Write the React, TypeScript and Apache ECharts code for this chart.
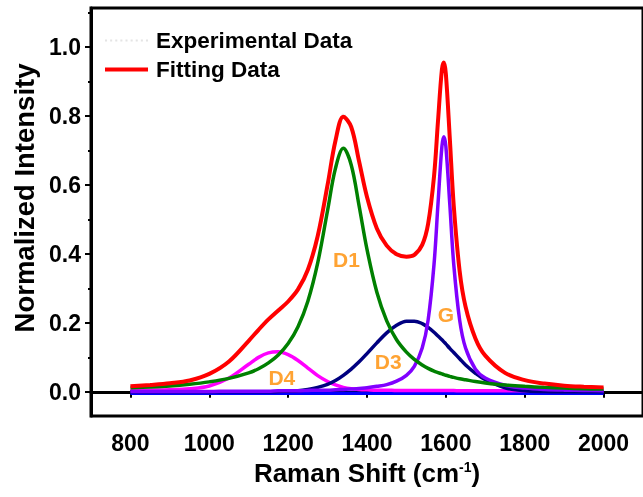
import React, { useEffect, useRef } from 'react';
import * as echarts from 'echarts';

const ramanShift = [800, 850, 900, 950, 1000, 1050, 1100, 1125, 1150, 1175, 1200, 1225, 1250, 1275, 1300, 1320, 1340, 1360, 1380, 1400, 1425, 1450, 1475, 1500, 1520, 1540, 1555, 1570, 1580, 1590, 1595, 1600, 1610, 1620, 1635, 1650, 1675, 1700, 1750, 1800, 1850, 1900, 1950, 2000];

const experimental = [0.018, 0.021, 0.024, 0.034, 0.052, 0.092, 0.150, 0.185, 0.210, 0.240, 0.266, 0.302, 0.350, 0.458, 0.604, 0.735, 0.805, 0.772, 0.662, 0.570, 0.470, 0.428, 0.396, 0.395, 0.394, 0.430, 0.483, 0.630, 0.790, 0.930, 0.958, 0.925, 0.730, 0.545, 0.355, 0.250, 0.158, 0.108, 0.058, 0.036, 0.025, 0.020, 0.016, 0.014];

const fitting = [0.016, 0.020, 0.025, 0.033, 0.052, 0.088, 0.148, 0.180, 0.210, 0.236, 0.262, 0.297, 0.354, 0.452, 0.600, 0.728, 0.798, 0.768, 0.668, 0.565, 0.474, 0.424, 0.399, 0.392, 0.397, 0.426, 0.487, 0.625, 0.784, 0.935, 0.955, 0.922, 0.735, 0.540, 0.350, 0.247, 0.155, 0.105, 0.055, 0.034, 0.024, 0.018, 0.015, 0.013];

const peakD1 = [0.012, 0.014, 0.017, 0.022, 0.029, 0.039, 0.055, 0.067, 0.084, 0.107, 0.140, 0.189, 0.263, 0.374, 0.526, 0.648, 0.706, 0.658, 0.539, 0.413, 0.289, 0.206, 0.151, 0.115, 0.094, 0.078, 0.068, 0.060, 0.056, 0.052, 0.050, 0.048, 0.045, 0.042, 0.038, 0.035, 0.030, 0.026, 0.020, 0.016, 0.013, 0.011, 0.009, 0.008];

const peakG = [0.001, 0.001, 0.001, 0.001, 0.001, 0.002, 0.002, 0.002, 0.002, 0.003, 0.003, 0.003, 0.004, 0.005, 0.005, 0.006, 0.007, 0.008, 0.010, 0.012, 0.016, 0.021, 0.031, 0.048, 0.074, 0.127, 0.208, 0.370, 0.544, 0.712, 0.740, 0.712, 0.544, 0.370, 0.208, 0.127, 0.066, 0.040, 0.019, 0.011, 0.007, 0.005, 0.004, 0.003];

const peakD3 = [0, 0, 0, 0, 0, 0, 0, 0, 0, 0.001, 0.002, 0.003, 0.007, 0.013, 0.022, 0.033, 0.048, 0.066, 0.087, 0.111, 0.142, 0.171, 0.193, 0.205, 0.205, 0.198, 0.187, 0.173, 0.162, 0.151, 0.145, 0.139, 0.126, 0.114, 0.096, 0.078, 0.054, 0.035, 0.012, 0.003, 0.001, 0, 0, 0];

const peakD4 = [0.004, 0.005, 0.006, 0.009, 0.017, 0.040, 0.080, 0.100, 0.113, 0.116, 0.108, 0.091, 0.069, 0.047, 0.030, 0.020, 0.013, 0.009, 0.007, 0.006, 0.005, 0.005, 0.004, 0.004, 0.004, 0.004, 0.004, 0.004, 0.004, 0.004, 0.004, 0.004, 0.004, 0.004, 0.003, 0.003, 0.003, 0.003, 0.003, 0.003, 0.003, 0.002, 0.002, 0.002];

const baselineX = [800, 2000];
const baselineY = [-0.004, -0.004];

const peakNames = ['D1', 'D4', 'D3', 'G'];
const peakLabelX = [1348, 1184, 1454, 1600];
const peakLabelY = [0.383, 0.041, 0.087, 0.223];

const xMajor = [800, 1000, 1200, 1400, 1600, 1800, 2000];
const xMinor = [700, 900, 1100, 1300, 1500, 1700, 1900, 2100];
const yMajor = [0, 0.2, 0.4, 0.6, 0.8, 1.0];
const yMinor = [0.1, 0.3, 0.5, 0.7, 0.9, 1.1];

const dottedIcon = 'path://M0,0h2v2h-2zM5,0h2v2h-2zM10,0h2v2h-2zM15,0h2v2h-2zM20,0h2v2h-2zM25,0h2v2h-2zM30,0h2v2h-2zM35,0h2v2h-2zM40,0h2v2h-2z';

export default function App() {
  const ref = useRef<HTMLDivElement>(null);
  useEffect(() => {
    const chart = echarts.init(ref.current as HTMLDivElement, null, { renderer: 'svg' });
    const font = "'Liberation Sans', Arial, Helvetica, sans-serif";
    const pairs = (xs: number[], ys: number[]) => xs.map((x, i) => [x, ys[i]]);
    const curve = (name: string, xs: number[], ys: number[], color: string, width: number, z: number, type = 'solid') => ({
      type: 'line',
      name,
      data: pairs(xs, ys),
      symbol: 'none',
      smooth: 0.35,
      silent: true,
      z,
      lineStyle: { color, width, type },
      itemStyle: { color },
    });
    const xBase = { type: 'value', min: 700, max: 2100, splitLine: { show: false } };
    const yBase = { type: 'value', min: -0.07, max: 1.113, splitLine: { show: false } };
    chart.setOption({
      animation: false,
      grid: { left: 91, right: -3, top: 8, bottom: 81, show: true, borderColor: '#000', borderWidth: 3 },
      legend: {
        data: [
          { name: 'Experimental Data', icon: dottedIcon, itemStyle: { color: '#e4e4e4' } },
          { name: 'Fitting Data', icon: 'rect', itemStyle: { color: '#ff0000' } },
        ],
        orient: 'vertical',
        left: 100,
        top: 24,
        itemWidth: 43,
        itemHeight: 4,
        itemGap: 6,
        textStyle: { fontFamily: font, fontWeight: 'bold', fontSize: 22.5, color: '#000', padding: [0, 0, 0, 3] },
      },
      xAxis: [
        {
          ...xBase,
          position: 'bottom',
          name: 'Raman Shift (cm{sup|-1})',
          nameLocation: 'middle',
          nameGap: 44,
          nameTextStyle: {
            fontFamily: font, fontWeight: 'bold', fontSize: 26, color: '#000',
            rich: { sup: { fontFamily: font, fontWeight: 'bold', fontSize: 14, color: '#000', verticalAlign: 'top', padding: [0, 0, 10, 0] } },
          },
          axisLine: { show: true, lineStyle: { color: '#000', width: 3 } },
          axisTick: { show: true, customValues: xMajor, length: 6, lineStyle: { color: '#000', width: 2 } },
          axisLabel: { customValues: xMajor, margin: 15, fontFamily: font, fontWeight: 'bold', fontSize: 23, color: '#000', formatter: (v: number) => String(v) },
        },
        {
          ...xBase,
          position: 'bottom',
          axisLine: { show: false },
          axisTick: { show: true, customValues: xMinor, length: 3, lineStyle: { color: '#000', width: 2 } },
          axisLabel: { show: false },
        },
      ],
      yAxis: [
        {
          ...yBase,
          position: 'left',
          name: 'Normalized Intensity',
          nameLocation: 'middle',
          nameGap: 50,
          nameTextStyle: { fontFamily: font, fontWeight: 'bold', fontSize: 27.5, color: '#000', padding: [0, 0, 0, 28] },
          axisLine: { show: true, lineStyle: { color: '#000', width: 3 } },
          axisTick: { show: true, customValues: yMajor, length: 6, lineStyle: { color: '#000', width: 2 } },
          axisLabel: { customValues: yMajor, margin: 10, fontFamily: font, fontWeight: 'bold', fontSize: 23, color: '#000', formatter: (v: number) => v.toFixed(1) },
        },
        {
          ...yBase,
          position: 'left',
          axisLine: { show: false },
          axisTick: { show: true, customValues: yMinor, length: 3, lineStyle: { color: '#000', width: 2 } },
          axisLabel: { show: false },
        },
      ],
      series: [
        curve('Baseline', baselineX, baselineY, '#0000ff', 3.5, 1),
        curve('D4', ramanShift, peakD4, '#ff00ff', 3.5, 2),
        curve('D3', ramanShift, peakD3, '#000080', 3.5, 3),
        curve('G', ramanShift, peakG, '#8000ff', 3.5, 4),
        curve('D1', ramanShift, peakD1, '#008000', 3.5, 5),
        curve('Experimental Data', ramanShift, experimental, '#e4e4e4', 1.5, 6, 'dotted'),
        curve('Fitting Data', ramanShift, fitting, '#ff0000', 4, 7),
        {
          type: 'scatter',
          name: 'Peak labels',
          silent: true,
          z: 8,
          symbolSize: 1,
          itemStyle: { color: 'rgba(0,0,0,0)' },
          data: peakNames.map((n, i) => ({ name: n, value: [peakLabelX[i], peakLabelY[i]] })),
          label: { show: true, position: 'inside', formatter: '{b}', fontFamily: font, fontWeight: 'bold', fontSize: 21, color: '#ff8c00' },
        },
      ],
    });
    return () => chart.dispose();
  }, []);
  return <div ref={ref} style={{ position: 'fixed', left: 0, top: 0, width: 643, height: 497 }} />;
}
